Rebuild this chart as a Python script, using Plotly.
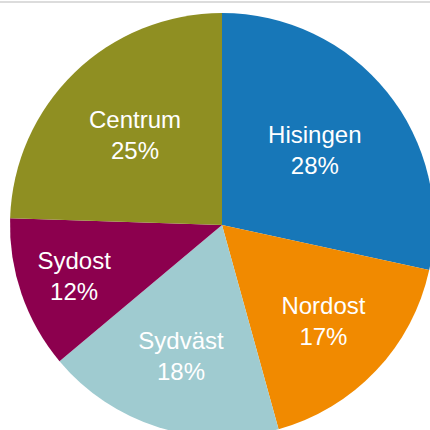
import plotly.graph_objects as go

districts = ["Hisingen", "Nordost", "Sydväst", "Sydost", "Centrum"]
shares = [28.4, 17.3, 18.2, 11.6, 24.5]
colors = ["#1777b8", "#f18a00", "#9fcbd0", "#8c004e", "#8f8f22"]

fig = go.Figure()
fig.add_trace(go.Pie(
    labels=districts,
    values=shares,
    sort=False,
    direction="clockwise",
    marker=dict(colors=colors, line=dict(width=0)),
    texttemplate="%{label}<br>%{percent:.0%}",
    textposition="inside",
    insidetextorientation="horizontal",
    textfont=dict(family="Liberation Sans, Arial", size=24, color="white"),
    hoverinfo="label+percent",
    showlegend=False,
))

fig.update_layout(
    width=444, height=437,
    margin=dict(l=10, r=10, t=13, b=0),
    paper_bgcolor="white",
    plot_bgcolor="white",
    uniformtext=dict(minsize=24, mode="show"),
    shapes=[dict(type="line", xref="paper", yref="paper", x0=-0.1, x1=1.1, y0=1.026, y1=1.026,
                 layer="above", line=dict(color="#dcdcdc", width=2))],
)

fig.write_html("out.html", config={"displayModeBar": False},
               post_script="document.body.style.overflow='hidden';document.body.style.margin='0';")
